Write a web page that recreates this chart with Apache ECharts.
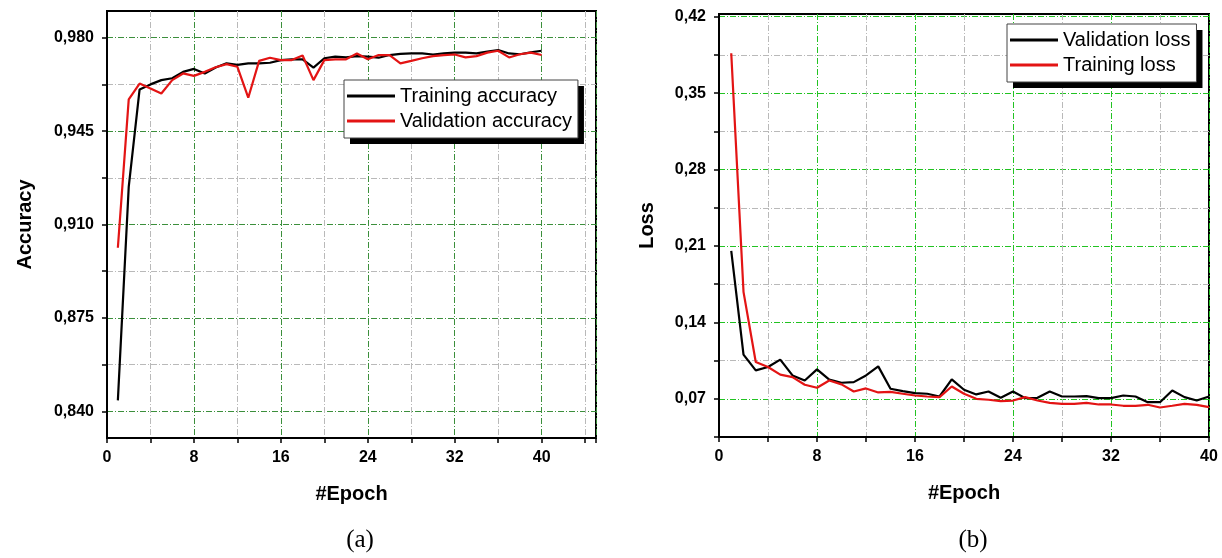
<!DOCTYPE html>
<html>
<head>
<meta charset="utf-8">
<script src="https://cdn.jsdelivr.net/npm/echarts@6/dist/echarts.min.js"></script>
<style>
  html, body { margin: 0; padding: 0; background: #fff; }
  #chart { width: 1222px; height: 558px; }
</style>
</head>
<body>
<div id="chart"></div>
<script>
// epochs 1..40
const epochs = [1, 2, 3, 4, 5, 6, 7, 8, 9, 10, 11, 12, 13, 14, 15, 16, 17, 18, 19, 20,
  21, 22, 23, 24, 25, 26, 27, 28, 29, 30, 31, 32, 33, 34, 35, 36, 37, 38, 39, 40];

// (a) accuracy
const trainAcc = [0.8441, 0.9241, 0.9606, 0.9625, 0.9641, 0.9648, 0.9672, 0.9683, 0.9666, 0.9688,
  0.9704, 0.9698, 0.9704, 0.9704, 0.9706, 0.9716, 0.9719, 0.9719, 0.9688, 0.9723,
  0.9729, 0.9726, 0.9731, 0.9729, 0.9725, 0.9735, 0.9739, 0.9741, 0.9741, 0.9737,
  0.9741, 0.9744, 0.9744, 0.9741, 0.9748, 0.9754, 0.9741, 0.9738, 0.9745, 0.9751];
const valAcc = [0.9013, 0.9569, 0.9628, 0.9610, 0.9591, 0.9641, 0.9666, 0.9657, 0.9672, 0.9689,
  0.9701, 0.9691, 0.9575, 0.9713, 0.9725, 0.9716, 0.9716, 0.9733, 0.9641, 0.9716,
  0.9719, 0.9719, 0.9741, 0.9719, 0.9735, 0.9735, 0.9704, 0.9713, 0.9723, 0.9731,
  0.9735, 0.9737, 0.9726, 0.9731, 0.9744, 0.9751, 0.9726, 0.9738, 0.9744, 0.9735];

// (b) loss
const valLoss = [0.2055, 0.1105, 0.0960, 0.0991, 0.1059, 0.0914, 0.0868, 0.0970, 0.0875, 0.0847,
  0.0853, 0.0914, 0.0997, 0.0792, 0.0770, 0.0752, 0.0746, 0.0721, 0.0878, 0.0783,
  0.0740, 0.0767, 0.0709, 0.0767, 0.0706, 0.0709, 0.0767, 0.0721, 0.0721, 0.0724,
  0.0706, 0.0706, 0.0730, 0.0721, 0.0669, 0.0669, 0.0776, 0.0715, 0.0684, 0.0721];
const trainLoss = [0.3865, 0.1680, 0.1037, 0.0991, 0.0921, 0.0899, 0.0829, 0.0801, 0.0868, 0.0832,
  0.0767, 0.0795, 0.0758, 0.0764, 0.0746, 0.0730, 0.0721, 0.0715, 0.0813, 0.0746,
  0.0700, 0.0691, 0.0678, 0.0684, 0.0715, 0.0684, 0.0663, 0.0654, 0.0654, 0.0663,
  0.0648, 0.0648, 0.0636, 0.0636, 0.0645, 0.0620, 0.0636, 0.0654, 0.0645, 0.0623];

// tick values
const accLabels = [0.840, 0.875, 0.910, 0.945, 0.980];
const accTicks = [0.840, 0.8575, 0.875, 0.8925, 0.910, 0.9275, 0.945, 0.9625, 0.980];
const lossLabels = [0.07, 0.14, 0.21, 0.28, 0.35, 0.42];
const lossTicks = [0.035, 0.07, 0.105, 0.14, 0.175, 0.21, 0.245, 0.28, 0.315, 0.35, 0.385, 0.42];

const FONT = "'Liberation Sans', Arial, sans-serif";
const pair = (xs, ys) => xs.map((x, i) => [x, ys[i]]);

function xAxisOpt(gridIndex, max, green) {
  return {
    type: 'value', gridIndex: gridIndex, min: 0, max: max, interval: 4,
    name: '#Epoch', nameLocation: 'middle', nameGap: 46,
    nameTextStyle: { fontFamily: FONT, fontWeight: 'bold', fontSize: 20, color: '#000' },
    axisLine: { lineStyle: { color: '#000', width: 2 } },
    axisTick: { length: 5, lineStyle: { color: '#000', width: 1.5 } },
    axisLabel: {
      margin: 12, fontFamily: FONT, fontWeight: 'bold', fontSize: 16, color: '#000',
      formatter: v => (v % 8 === 0 ? String(v) : '')
    },
    splitLine: { show: true, lineStyle: { color: [green, '#b9b9b9'], type: [6, 2, 1, 2], width: 1 } }
  };
}

function yAxisOpt(gridIndex, name, gap, min, max, labels, ticks, digits, colors) {
  return {
    type: 'value', gridIndex: gridIndex, min: min, max: max,
    name: name, nameLocation: 'middle', nameGap: gap,
    nameTextStyle: { fontFamily: FONT, fontWeight: 'bold', fontSize: 20, color: '#000' },
    axisLine: { show: true, lineStyle: { color: '#000', width: 2 } },
    axisTick: { show: true, length: 5, customValues: ticks, lineStyle: { color: '#000', width: 1.5 } },
    axisLabel: {
      margin: 13, customValues: labels, fontFamily: FONT, fontWeight: 'bold', fontSize: 16, color: '#000',
      formatter: v => v.toFixed(digits).replace('.', ',')
    },
    splitLine: { show: true, lineStyle: { color: colors, type: [6, 2, 1, 2], width: 1 } }
  };
}

// two stacked legends: the first only draws the hard black shadow,
// the second draws the bordered box and the items on top of it
function legendOpts(names, left, top) {
  const base = {
    data: names, orient: 'vertical', left: left, top: top,
    icon: 'rect', itemWidth: 48, itemHeight: 3, itemGap: 5,
    padding: [6, 6, 7, 3],
    textStyle: { fontFamily: FONT, fontSize: 20, color: '#000' }
  };
  const shadow = Object.assign({}, base, {
    backgroundColor: '#000', borderWidth: 0,
    shadowColor: '#000', shadowBlur: 0, shadowOffsetX: 6, shadowOffsetY: 6,
    textStyle: Object.assign({}, base.textStyle, { color: 'rgba(0,0,0,0)' }),
    itemStyle: { opacity: 0 }
  });
  const box = Object.assign({}, base, {
    backgroundColor: '#fff', borderColor: '#444', borderWidth: 1
  });
  return [shadow, box];
}

function lineSeries(name, xi, yi, data, color) {
  return {
    type: 'line', name: name, xAxisIndex: xi, yAxisIndex: yi,
    data: data, symbol: 'none', animation: false,
    itemStyle: { color: color },
    lineStyle: { color: color, width: 2.2 }
  };
}

const chart = echarts.init(document.getElementById('chart'));
chart.setOption({
  backgroundColor: '#fff',
  animation: false,
  title: [
    { text: '(a)', left: 355, top: 523, textAlign: 'center',
      textStyle: { fontFamily: "'Liberation Serif', 'DejaVu Serif', serif", fontWeight: 'normal', fontSize: 25, color: '#000' } },
    { text: '(b)', left: 968, top: 523, textAlign: 'center',
      textStyle: { fontFamily: "'Liberation Serif', 'DejaVu Serif', serif", fontWeight: 'normal', fontSize: 25, color: '#000' } }
  ],
  legend: [].concat(
    legendOpts(['Training accuracy', 'Validation accuracy'], 344, 80),
    legendOpts(['Validation loss', 'Training loss'], 1007, 24)
  ),
  grid: [
    { left: 107, top: 11, width: 489, height: 427, show: true, borderColor: '#000', borderWidth: 2 },
    { left: 719, top: 14, width: 490, height: 423, show: true, borderColor: '#000', borderWidth: 2 }
  ],
  xAxis: [
    xAxisOpt(0, 45, '#3c8f3c'),
    xAxisOpt(1, 40, '#22c322')
  ],
  yAxis: [
    yAxisOpt(0, 'Accuracy', 72, 0.83, 0.99, accLabels, accTicks, 3, ['#3c8f3c', '#b9b9b9']),
    yAxisOpt(1, 'Loss', 62, 0.035, 0.4225, lossLabels, lossTicks, 2, ['#b9b9b9', '#22c322'])
  ],
  series: [
    lineSeries('Training accuracy', 0, 0, pair(epochs, trainAcc), '#000'),
    lineSeries('Validation accuracy', 0, 0, pair(epochs, valAcc), '#e31414'),
    lineSeries('Validation loss', 1, 1, pair(epochs, valLoss), '#000'),
    lineSeries('Training loss', 1, 1, pair(epochs, trainLoss), '#e31414')
  ]
});
</script>
</body>
</html>
